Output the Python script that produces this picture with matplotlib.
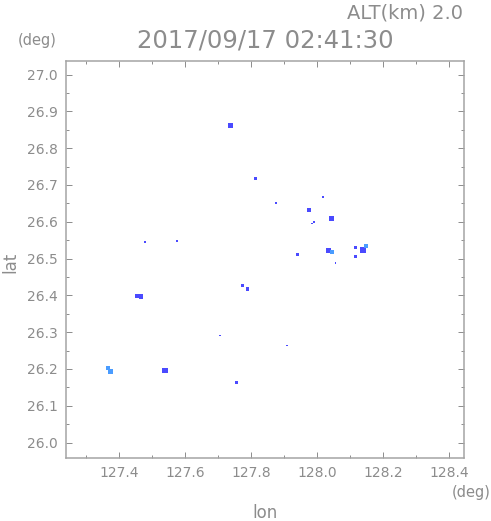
import matplotlib
matplotlib.use('Agg')
import matplotlib.pyplot as plt
from matplotlib.ticker import MultipleLocator

# Данные: положения эхо-пятен (lon, lat), размер пятна и оттенок
lon = [127.738, 127.814, 128.017, 127.876, 127.975, 127.985, 127.992, 128.045,
       127.942, 128.036, 128.046, 128.055, 128.117, 128.117, 128.138, 128.148,
       127.479, 127.576, 127.456, 127.467, 127.775, 127.790, 127.368, 127.374,
       127.540, 127.755, 127.909, 127.706]
lat = [26.863, 26.718, 26.667, 26.652, 26.632, 26.596, 26.600, 26.608,
       26.510, 26.522, 26.519, 26.488, 26.530, 26.505, 26.524, 26.534,
       26.545, 26.548, 26.399, 26.397, 26.428, 26.417, 26.203, 26.193,
       26.196, 26.163, 26.263, 26.290]
blob = [5, 3, 2, 2, 4, 1.5, 2, 5,
        3, 5, 4, 1.2, 3, 3, 6, 4,
        1.8, 2.5, 4, 4.5, 3, 3.5, 4, 5,
        5.5, 3, 1.2, 1.2]
shade = ['d', 'd', 'd', 'd', 'd', 'd', 'd', 'd',
         'd', 'd', 'l', 'd', 'd', 'd', 'd', 'l',
         'd', 'd', 'd', 'd', 'd', 'd', 'l', 'l',
         'd', 'd', 'd', 'd']

title = '2017/09/17 02:41:30'
alt_label = 'ALT(km) 2.0'

colors = {'d': '#4a4aff', 'l': '#4a9cff'}
gray = '#8c8c8c'

W, H = 491, 521
fig = plt.figure(figsize=(W / 100, H / 100), dpi=100)
ax = fig.add_axes([66 / W, 1 - 458 / H, 398 / W, 397 / H])

# размер пятна в пикселях -> площадь маркера в pt^2
sizes = [(b * 0.72) ** 2 for b in blob]
ax.scatter(lon, lat, s=sizes, c=[colors[s] for s in shade], marker='s',
           linewidths=0)

ax.set_xlim(127.2394, 128.4455)
ax.set_ylim(25.958, 27.037)

ax.xaxis.set_major_locator(MultipleLocator(0.2))
ax.xaxis.set_minor_locator(MultipleLocator(0.1))
ax.yaxis.set_major_locator(MultipleLocator(0.1))
ax.yaxis.set_minor_locator(MultipleLocator(0.05))
ax.xaxis.set_major_formatter(plt.FormatStrFormatter('%.1f'))
ax.yaxis.set_major_formatter(plt.FormatStrFormatter('%.1f'))

ax.tick_params(which='both', direction='in', top=True, right=True,
               color=gray, labelcolor=gray, labelsize=10)
ax.tick_params(which='major', length=4.5, width=0.7, pad=6)
ax.tick_params(which='minor', length=2.2, width=0.7)
for sp in ax.spines.values():
    sp.set_color('#a4a4a4')
    sp.set_linewidth(1.1)

fig.text(265 / W, 1 - 40 / H, title, ha='center', va='center',
         fontsize=17.5, color=gray)
fig.text(463 / W, 1 - 13 / H, alt_label, ha='right', va='center',
         fontsize=14, color=gray)
fig.text(37 / W, 1 - 40 / H, '(deg)', ha='center', va='center',
         fontsize=10.5, color=gray)
fig.text(471 / W, 1 - 492 / H, '(deg)', ha='center', va='center',
         fontsize=10.5, color=gray)
fig.text(265 / W, 1 - 513 / H, 'lon', ha='center', va='center',
         fontsize=12, color=gray)
fig.text(10 / W, 1 - 262 / H, 'lat', ha='center', va='center',
         fontsize=12, color=gray, rotation=90)

fig.savefig('out.png', dpi=100)
